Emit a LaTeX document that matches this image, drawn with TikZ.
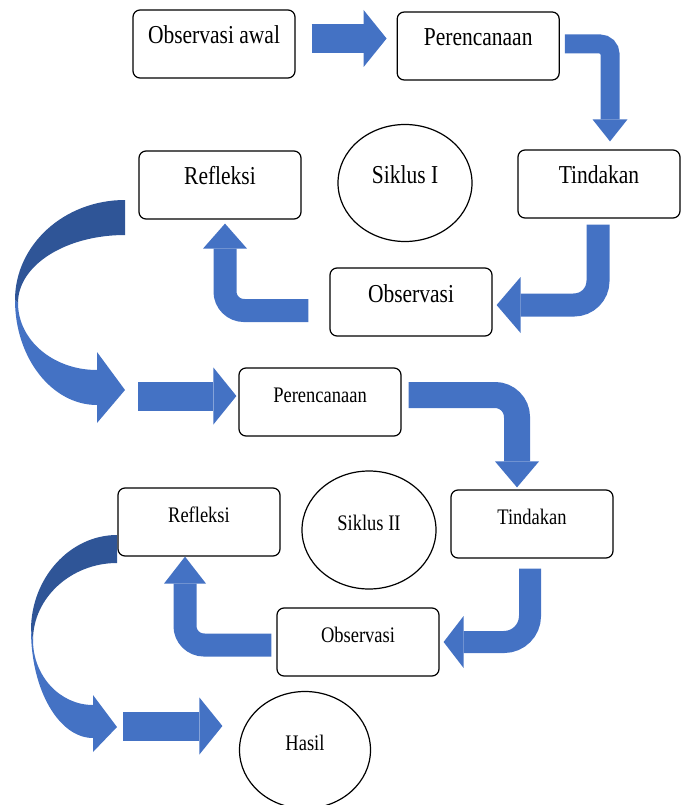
\documentclass[tikz,border=0pt]{standalone}
\usepackage{fontspec}
\setmainfont{Liberation Serif}
\usepackage{graphicx}
\usetikzlibrary{positioning,shapes.geometric,arrows.meta}
\definecolor{flowblue}{HTML}{4472C4}
\definecolor{flowdark}{HTML}{2F5597}
\newcommand{\tall}[1]{\scalebox{1}[1.2]{#1}}

\begin{document}
\begin{tikzpicture}[x=1pt, y=-1pt,
    box/.style = {draw, rounded corners=7pt, line width=1.2pt, minimum width=162pt, minimum height=68pt, inner sep=0pt, text height=16pt, text depth=16pt},
    cyclenode/.style = {draw, ellipse, line width=1.2pt, minimum width=134pt, minimum height=117pt, inner sep=0pt, text height=16pt, text depth=16pt},
    bigtext/.style = {font=\fontsize{21.5}{24}\selectfont},
    smalltext/.style = {font=\fontsize{18.5}{22}\selectfont},
    straight/.style = {draw=flowblue, line width=29pt, -{Triangle[length=23pt,width=57pt,line width=0pt 0 0]}},
    bent/.style n args = {4}{draw=flowblue, line width=#1, rounded corners=#2, -{Triangle[length=#3,width=#4,line width=0pt 0 0]}}]
    \useasboundingbox (0,0) rectangle (684,805);

    % cycle I
    \node[box, bigtext] (obsawal) at (214,44) {\tall{Observasi awal}};
    \node[box, bigtext, right=101pt of obsawal, yshift=-2pt] (plan1) {\tall{Perencanaan}};
    \node[box, bigtext] (tind1) at (599,184) {\tall{Tindakan}};
    \node[box, bigtext] (refl1) at (220,185) {\tall{Refleksi}};
    \node[cyclenode, bigtext] (siklus1) at (405,183) {\tall{Siklus I}};
    \node[box, bigtext] (obs1) at (411,302) {\tall{Observasi}};

    % cycle II
    \node[box, smalltext] (plan2) at (320,402) {\tall{Perencanaan}};
    \node[box, smalltext] (tind2) at (532,524) {\tall{Tindakan}};
    \node[box, smalltext] (refl2) at (199,522) {\tall{Refleksi}};
    \node[cyclenode, smalltext, minimum height=118pt] (siklus2) at (369,530) {\tall{Siklus II}};
    \node[box, smalltext] (obs2) at (358,642) {\tall{Observasi}};
    \node[cyclenode, smalltext, minimum width=131pt] (hasil) at (305,750) {\tall{Hasil}};

    \coordinate (loop1end) at (138,396);
    \coordinate (loop2end) at (123,726);

    \draw[straight] ([shift={(16pt,5.5pt)}]obsawal.east) -- ([shift={(-10pt,7.5pt)}]plan1.west);
    \draw[bent={19pt}{10pt}{22pt}{35pt}] ([shift={(5pt,2pt)}]plan1.east) -| ([shift={(11pt,8pt)}]tind1.north);
    \draw[bent={23pt}{24pt}{24pt}{56pt}] ([shift={(-1pt,-6pt)}]tind1.south) |- ([shift={(4pt,-3pt)}]obs1.east);
    \draw[bent={23pt}{19pt}{25pt}{44pt}] ([shift={(-21pt,-8.5pt)}]obs1.west) -| ([shift={(5pt,-4pt)}]refl1.south);

    % loop from cycle I into cycle II
    \fill[flowdark] (125,200) .. controls (64,200) and (15,245) .. (15,300)
        -- (18,303) .. controls (18,265) and (66,235) .. (125,235) -- cycle;
    \fill[flowblue] (15,300) .. controls (15,358) and (52,405) .. (97,405)
        -- (97,423) -- (125,390) -- (97,352) -- (97,370)
        .. controls (53,370) and (18,340) .. (18,303) -- cycle;
    \draw[straight] (loop1end) -- ([shift={(-2pt,6pt)}]plan2.west);

    \draw[bent={26pt}{22pt}{26pt}{44pt}] ([shift={(7pt,7pt)}]plan2.east) -| ([shift={(-15pt,2pt)}]tind2.north);
    \draw[bent={22pt}{26pt}{20pt}{52pt}] ([shift={(-2pt,-10pt)}]tind2.south) |- ([shift={(4pt,0pt)}]obs2.east);
    \draw[bent={23pt}{19pt}{27pt}{42pt}] ([shift={(-5pt,-3pt)}]obs2.west) -| ([shift={(-14pt,0pt)}]refl2.south);

    % loop from cycle II to the result
    \fill[flowdark] (117,535) .. controls (70,535) and (31,578) .. (31,630)
        -- (33,640) .. controls (33,598) and (71,563) .. (117,563) -- cycle;
    \fill[flowblue] (31,630) .. controls (31,690) and (59,738) .. (93,738)
        -- (93,752) -- (117,727) -- (93,695) -- (93,705)
        .. controls (60,705) and (33,676) .. (33,640) -- cycle;
    \draw[straight] (loop2end) -- ([shift={(-16.5pt,24pt)}]hasil.west);
\end{tikzpicture}
\end{document}
